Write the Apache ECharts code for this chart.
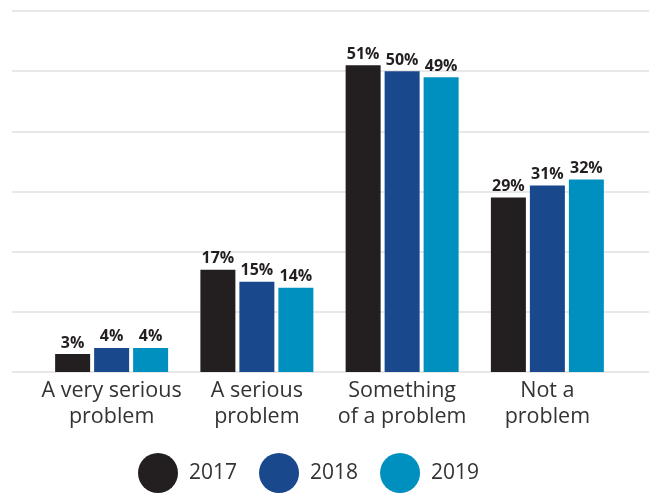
<!DOCTYPE html>
<html>
<head>
<meta charset="utf-8">
<script src="https://cdn.jsdelivr.net/npm/echarts@6/dist/echarts.min.js"></script>
<style>
html,body{margin:0;padding:0;background:#fff;}
#c{width:649px;height:493px;}
</style>
</head>
<body>
<div id="c"></div>
<script>
const categories = ['A very serious\nproblem', 'A serious\nproblem', 'Something\nof a problem', 'Not a\nproblem'];
const years = ['2017', '2018', '2019'];
const values2017 = [3, 17, 51, 29];
const values2018 = [4, 15, 50, 31];
const values2019 = [4, 14, 49, 32];
const colors = ['#231f20', '#19488c', '#0090c0'];

const chart = echarts.init(document.getElementById('c'), null, {renderer: 'canvas'});
const font = '"Open Sans", "Noto Sans", sans-serif';
const seriesData = [values2017, values2018, values2019];

chart.setOption({
  animation: false,
  backgroundColor: '#fff',
  grid: [
    {left: 12, right: 0, top: 11, bottom: 121},
    {left: 39, right: 29, top: 11, bottom: 121}
  ],
  xAxis: [
    {gridIndex: 0, type: 'category', data: categories, show: false},
    {gridIndex: 1, type: 'category', data: categories,
     axisLine: {show: false}, axisTick: {show: false},
     axisLabel: {color: '#333', fontFamily: font, fontSize: 21.5, lineHeight: 26, margin: 6, interval: 0}}
  ],
  yAxis: [
    {gridIndex: 0, type: 'value', min: 0, max: 60, interval: 10,
     axisLine: {show: false}, axisTick: {show: false}, axisLabel: {show: false},
     splitLine: {show: true, lineStyle: {color: '#e8e8e8', width: 2}}},
    {gridIndex: 1, type: 'value', min: 0, max: 60, interval: 10, show: false,
     splitLine: {show: false}}
  ],
  legend: {
    left: 138, top: 453, padding: 0,
    itemWidth: 40, itemHeight: 40, itemGap: 22,
    icon: 'circle',
    textStyle: {color: '#333', fontFamily: font, fontSize: 21, padding: [0, 0, 0, 6]},
    data: years
  },
  series: years.map((y, i) => ({
    name: y,
    type: 'bar',
    xAxisIndex: 1, yAxisIndex: 1,
    data: seriesData[i],
    barWidth: 35,
    barGap: '11.4%',
    itemStyle: {color: colors[i]},
    label: {show: true, position: 'top', distance: 3, formatter: '{c}%',
            color: '#231f20', fontFamily: font, fontWeight: 'bold', fontSize: 16}
  }))
});
</script>
</body>
</html>
